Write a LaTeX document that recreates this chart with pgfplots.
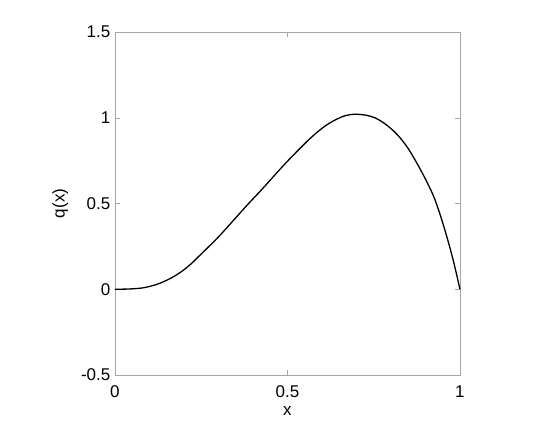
\documentclass[border=0pt]{standalone}
\usepackage{fontspec}
\setmainfont{Liberation Sans}
\usepackage{pgfplots}
\pgfplotsset{compat=1.18}

\begin{document}
\begin{tikzpicture}
\begin{axis}[
    scale only axis,
    width=345pt, height=343pt,
    xmin=0, xmax=1, ymin=-0.5, ymax=1.5,
    xtick={0,0.5,1}, ytick={-0.5,0,0.5,1,1.5},
    xticklabels={0,0.5,1}, yticklabels={-0.5,0,0.5,1,1.5},
    tick align=inside,
    major tick length=5pt,
    axis line style={gray!70},
    tick style={gray!70},
    label style={font=\fontsize{17}{20}\selectfont},
    ticklabel style={font=\fontsize{17}{20}\selectfont},
    xlabel={x}, ylabel={q(x)},
    xlabel style={yshift=-2pt},
    ylabel style={yshift=6pt},
    xticklabel style={yshift=-7pt},
    yticklabel style={xshift=-1pt},
    clip=false,
]
\addplot[black, line width=1.3pt, smooth] coordinates {
(0,0) (0.04,0.001) (0.082,0.008) (0.12,0.027) (0.15,0.052) (0.175,0.079) (0.198,0.110)
(0.222,0.150) (0.246,0.197) (0.270,0.244)
(0.295,0.294) (0.319,0.346) (0.343,0.400) (0.367,0.454) (0.391,0.507) (0.416,0.560) (0.440,0.613)
(0.464,0.667) (0.488,0.720) (0.512,0.771)
(0.536,0.820) (0.560,0.868) (0.585,0.913) (0.609,0.951) (0.633,0.981) (0.665,1.010) (0.695,1.020)
(0.729,1.014) (0.755,0.998)
(0.778,0.971) (0.802,0.933) (0.826,0.884) (0.850,0.820) (0.874,0.739) (0.898,0.650) (0.923,0.545)
(0.942,0.438) (0.961,0.313) (0.981,0.165) (1,0)
};
\path (rel axis cs:-0.333,-0.143) rectangle (rel axis cs:1.261,1.093);
\end{axis}
\end{tikzpicture}
\end{document}
